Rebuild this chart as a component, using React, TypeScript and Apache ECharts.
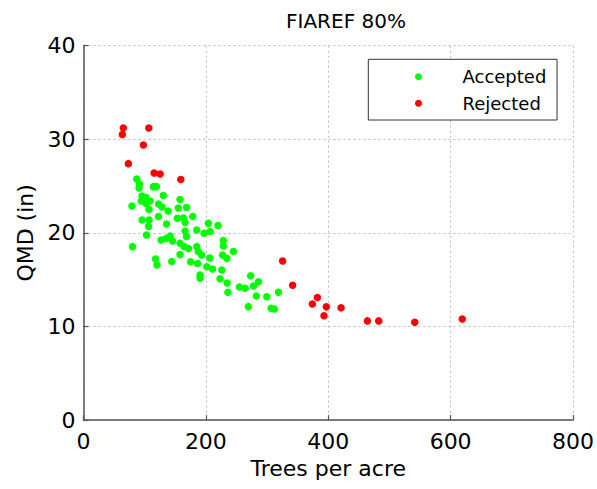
import React, { useEffect, useRef } from "react";
import * as echarts from "echarts";

const acceptedTPA = [
  87.0, 91.6, 90.8, 114.1, 119.4, 130.5, 95.7, 102.2, 108.7, 94.5, 79.3, 102.2, 107.1, 122.6, 128.4, 138.2,
  157.8, 155.0, 168.4, 122.6, 178.6, 153.4, 163.2, 166.0, 95.7, 107.1, 135.7, 204.1, 219.9, 106.3, 185.1,
  197.1, 206.9, 166.0, 168.4, 103.0, 141.5, 134.9, 126.7, 145.5, 228.6, 157.8, 164.3, 171.7, 80.1, 185.1,
  187.7, 228.6, 245.0, 157.8, 117.7, 120.2, 144.2, 206.5, 234.2, 175.0, 186.4, 201.5, 211.0, 227.3, 193.3,
  190.5, 190.5, 226.0, 223.2, 234.7, 236.0, 254.8, 264.1, 273.1, 277.7, 285.9, 282.6, 299.6, 318.6, 269.5,
  306.6, 311.9,
];
const acceptedQMD = [
  25.76, 25.22, 24.8, 24.94, 24.94, 24.0, 23.94, 23.78, 23.41, 23.41, 22.87, 23.14, 22.5, 23.09, 22.77, 22.34,
  23.57, 22.66, 22.71, 21.75, 21.75, 21.56, 21.59, 21.11, 21.38, 21.38, 20.95, 21.03, 20.79, 20.68, 20.31,
  19.96, 20.15, 20.2, 19.62, 19.78, 19.67, 19.4, 19.24, 19.13, 19.19, 18.89, 18.55, 18.33, 18.53, 18.53,
  17.99, 18.6, 18.01, 17.69, 17.21, 16.57, 16.94, 17.32, 17.29, 16.92, 16.73, 16.39, 16.14, 17.64, 17.64,
  15.5, 15.15, 16.04, 15.11, 14.65, 13.66, 14.22, 14.08, 15.42, 14.33, 14.79, 13.26, 13.18, 13.65, 12.12,
  11.94, 11.87,
];
const rejectedTPA = [
  65.1, 63.5, 106.7, 97.9, 73.3, 115.4, 125.2, 159.0, 325.4, 341.8, 382.2, 374.0, 396.9, 420.9, 393.0, 464.0,
  482.5, 541.4, 619.0,
];
const rejectedQMD = [
  31.2, 30.5, 31.2, 29.4, 27.4, 26.4, 26.3, 25.7, 17.0, 14.4, 13.1, 12.4, 12.1, 12.0, 11.15, 10.6, 10.6, 10.45,
  10.8,
];

const seriesNames = ["Accepted", "Rejected"];
const titleText = "FIAREF 80%";
const xName = "Trees per acre";
const yName = "QMD (in)";

const FONT = "DejaVu Sans";

export default function App() {
  const ref = useRef<HTMLDivElement>(null);
  useEffect(() => {
    if (!ref.current) return;
    const chart = echarts.init(ref.current, undefined, { renderer: "svg" });
    const axisCommon = {
      type: "value" as const,
      axisLine: { show: true, lineStyle: { color: "#555", width: 1.5 } },
      axisTick: { show: true, inside: true, length: 5, lineStyle: { color: "#555", width: 1.2 } },
      splitLine: { show: true, lineStyle: { color: "#bdbdbd", type: [2, 3], width: 1 } },
      axisLabel: { color: "#000", fontFamily: FONT, fontSize: 22 },
      nameTextStyle: { color: "#000", fontFamily: FONT, fontSize: 22 },
    };
    chart.setOption({
      animation: false,
      backgroundColor: "#fff",
      title: {
        text: titleText,
        left: 341,
        top: 6,
        textAlign: "center",
        textStyle: { color: "#000", fontFamily: FONT, fontSize: 20, fontWeight: "normal" },
      },
      grid: { left: 83.5, right: 23.5, top: 45.7, bottom: 68.9, containLabel: false },
      xAxis: {
        ...axisCommon,
        min: 0,
        max: 800,
        interval: 200,
        name: xName,
        nameLocation: "middle",
        nameGap: 36,
        axisLabel: { ...axisCommon.axisLabel, margin: 10 },
      },
      yAxis: {
        ...axisCommon,
        min: 0,
        max: 40,
        interval: 10,
        name: yName,
        nameLocation: "middle",
        nameGap: 42,
        axisLabel: { ...axisCommon.axisLabel, margin: 8 },
      },
      legend: {
        data: seriesNames,
        orient: "vertical",
        left: 368.3,
        top: 59.3,
        padding: [8.4, 10.7, 7.7, 46.7],
        itemGap: 8.6,
        itemWidth: 78,
        itemHeight: 7,
        icon: "circle",
        backgroundColor: "#fff",
        borderColor: "#333",
        borderWidth: 1,
        textStyle: { color: "#000", fontFamily: FONT, fontSize: 18, lineHeight: 18 },
      },
      series: [
        {
          name: seriesNames[0],
          type: "scatter",
          symbol: "circle",
          symbolSize: 7.5,
          itemStyle: { color: "#00ff00", opacity: 1 },
          data: acceptedTPA.map((x, i) => [x, acceptedQMD[i]]),
        },
        {
          name: seriesNames[1],
          type: "scatter",
          symbol: "circle",
          symbolSize: 7.5,
          itemStyle: { color: "#ff0000", opacity: 1 },
          data: rejectedTPA.map((x, i) => [x, rejectedQMD[i]]),
        },
      ],
    });
    return () => chart.dispose();
  }, []);
  return (
    <div
      ref={ref}
      style={{ position: "fixed", left: 0, top: 0, width: 597, height: 489, background: "#fff" }}
    />
  );
}
